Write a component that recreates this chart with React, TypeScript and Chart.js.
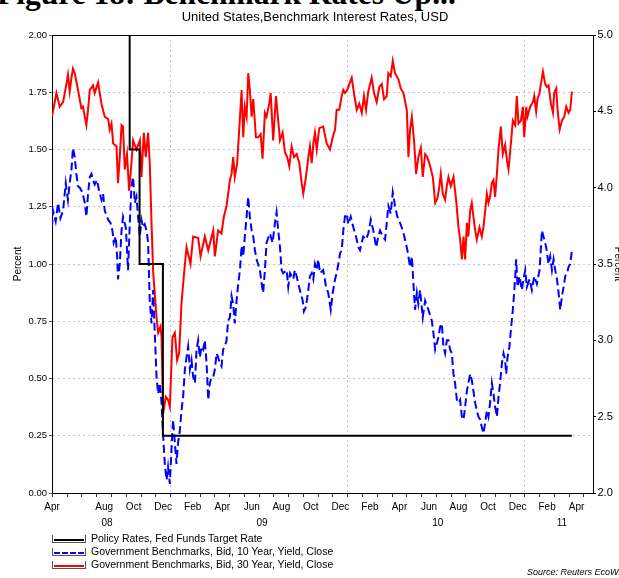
import React, { useEffect, useRef } from 'react';
import { Chart, registerables } from 'chart.js';

Chart.register(...registerables);

// x values are months since 1 Jan 2008 (12 = Jan 2009, 24 = Jan 2010, 36 = Jan 2011)
const axisStart = 3.97;
const axisEnd = 40.61;

const chartTitle = 'United States,Benchmark Interest Rates, USD';
const figureHeading = 'Figure 18: Benchmark Rates Up...';
const sourceNote = 'Source: Reuters EcoWin';

const seriesLabels = [
  'Policy Rates, Fed Funds Target Rate',
  'Government Benchmarks, Bid, 10 Year, Yield, Close',
  'Government Benchmarks, Bid, 30 Year, Yield, Close',
];

// Fed funds target rate (left axis, %)
const policyRate: [number, number][] = [
  [3.97, 2.0], [9.23, 1.5], [9.9, 1.0], [11.48, 0.25], [39.18, 0.25],
];

// 10 year yield (right axis, %)
const tenYear: [number, number][] = [
  [3.97, 3.74], [4.04, 3.85], [4.22, 3.78], [4.38, 3.9], [4.54, 3.8], [4.72, 3.85], [4.9, 4.03], [5.05, 3.92],
  [5.17, 4.03], [5.29, 4.12], [5.39, 4.26], [5.51, 4.2], [5.62, 4.09], [5.73, 4.01], [5.85, 4.0], [6.03, 3.97],
  [6.19, 3.9], [6.3, 3.81], [6.41, 3.96], [6.53, 4.07], [6.64, 4.09], [6.75, 4.05], [6.86, 4.02], [7.02, 4.05],
  [7.16, 3.98], [7.32, 3.92], [7.43, 3.96], [7.54, 3.85], [7.66, 3.82], [7.77, 3.79], [7.93, 3.77], [8.06, 3.72],
  [8.15, 3.64], [8.29, 3.68], [8.38, 3.55], [8.44, 3.4], [8.56, 3.5], [8.68, 3.72], [8.78, 3.81], [8.97, 3.74],
  [9.12, 3.46], [9.24, 3.77], [9.35, 4.01], [9.46, 4.07], [9.58, 3.9], [9.69, 3.94], [9.8, 3.81], [9.92, 3.68],
  [10.03, 3.79], [10.14, 3.74], [10.25, 3.76], [10.37, 3.72], [10.48, 3.64], [10.59, 3.26], [10.71, 3.11], [10.82, 3.33],
  [10.93, 3.05], [11.05, 2.76], [11.16, 2.65], [11.27, 2.72], [11.39, 2.59], [11.5, 2.37], [11.61, 2.19], [11.73, 2.085],
  [11.83, 2.17], [11.95, 2.06], [12.06, 2.28], [12.17, 2.48], [12.29, 2.33], [12.4, 2.19], [12.51, 2.33], [12.63, 2.41],
  [12.74, 2.54], [12.85, 2.63], [12.97, 2.81], [13.08, 2.89], [13.19, 2.96], [13.31, 2.81], [13.42, 2.87], [13.53, 2.76],
  [13.65, 2.72], [13.76, 2.94], [13.87, 3.0], [13.98, 2.89], [14.1, 2.96], [14.21, 2.94], [14.32, 3.0], [14.44, 2.85],
  [14.55, 2.61], [14.66, 2.72], [14.78, 2.76], [14.89, 2.76], [15.0, 2.81], [15.12, 2.915], [15.22, 2.89], [15.34, 2.85],
  [15.45, 2.83], [15.56, 2.94], [15.68, 2.96], [15.79, 3.0], [15.9, 3.13], [16.02, 3.15], [16.13, 3.29], [16.24, 3.24],
  [16.35, 3.11], [16.47, 3.26], [16.58, 3.37], [16.7, 3.46], [16.81, 3.62], [16.92, 3.55], [17.03, 3.68], [17.15, 3.81],
  [17.26, 3.94], [17.37, 3.81], [17.49, 3.72], [17.6, 3.68], [17.71, 3.59], [17.83, 3.53], [18.05, 3.46], [18.17, 3.37],
  [18.27, 3.31], [18.39, 3.46], [18.5, 3.64], [18.73, 3.7], [18.91, 3.64], [19.07, 3.77], [19.18, 3.84], [19.29, 3.72],
  [19.41, 3.61], [19.52, 3.46], [19.63, 3.44], [19.86, 3.46], [19.97, 3.35], [20.09, 3.44], [20.31, 3.4], [20.42, 3.46],
  [20.54, 3.42], [20.65, 3.37], [20.81, 3.31], [20.95, 3.26], [21.03, 3.19], [21.17, 3.22], [21.33, 3.33], [21.44, 3.42],
  [21.56, 3.44], [21.67, 3.4], [21.78, 3.5], [21.9, 3.46], [22.0, 3.53], [22.12, 3.44], [22.34, 3.46], [22.53, 3.35],
  [22.68, 3.31], [22.85, 3.2], [22.98, 3.31], [23.14, 3.4], [23.25, 3.44], [23.36, 3.5], [23.48, 3.57], [23.59, 3.59],
  [23.7, 3.72], [23.81, 3.81], [23.93, 3.83], [24.04, 3.76], [24.2, 3.81], [24.38, 3.74], [24.56, 3.68], [24.72, 3.61],
  [24.83, 3.59], [24.95, 3.64], [25.05, 3.68], [25.24, 3.66], [25.39, 3.7], [25.56, 3.79], [25.73, 3.72], [25.92, 3.61],
  [26.07, 3.68], [26.19, 3.72], [26.37, 3.68], [26.53, 3.66], [26.64, 3.77], [26.75, 3.88], [26.91, 3.83], [27.05, 3.97],
  [27.2, 3.88], [27.36, 3.81], [27.54, 3.77], [27.73, 3.72], [27.88, 3.66], [28.04, 3.59], [28.22, 3.48], [28.34, 3.55],
  [28.45, 3.37], [28.56, 3.2], [28.68, 3.31], [28.78, 3.24], [28.9, 3.33], [29.08, 3.15], [29.24, 3.26], [29.39, 3.22],
  [29.53, 3.18], [29.69, 3.13], [29.8, 3.05], [29.92, 2.94], [30.03, 2.98], [30.14, 3.02], [30.26, 3.09], [30.37, 3.11],
  [30.48, 2.96], [30.59, 2.915], [30.71, 3.0], [30.82, 3.0], [30.93, 2.94], [31.05, 2.915], [31.16, 2.78], [31.27, 2.72],
  [31.39, 2.61], [31.5, 2.59], [31.61, 2.61], [31.73, 2.5], [31.84, 2.48], [31.95, 2.565], [32.07, 2.67], [32.17, 2.72],
  [32.29, 2.78], [32.4, 2.74], [32.51, 2.67], [32.63, 2.59], [32.74, 2.54], [32.85, 2.5], [32.97, 2.48], [33.08, 2.43],
  [33.19, 2.39], [33.31, 2.46], [33.42, 2.54], [33.53, 2.5], [33.64, 2.59], [33.76, 2.72], [33.87, 2.65], [33.98, 2.565],
  [34.1, 2.5], [34.21, 2.63], [34.32, 2.72], [34.44, 2.85], [34.55, 2.915], [34.66, 2.87], [34.73, 2.78], [34.82, 2.89],
  [34.95, 2.96], [35.05, 3.07], [35.18, 3.2], [35.27, 3.31], [35.34, 3.42], [35.41, 3.53], [35.5, 3.35], [35.63, 3.42],
  [35.79, 3.33], [35.9, 3.4], [36.02, 3.46], [36.13, 3.35], [36.31, 3.4], [36.47, 3.33], [36.63, 3.42], [36.81, 3.37],
  [36.99, 3.46], [37.15, 3.72], [37.31, 3.66], [37.44, 3.61], [37.6, 3.5], [37.71, 3.55], [37.83, 3.46], [37.94, 3.53],
  [38.05, 3.46], [38.17, 3.4], [38.28, 3.31], [38.39, 3.2], [38.51, 3.29], [38.62, 3.35], [38.73, 3.42], [38.85, 3.44],
  [38.95, 3.48], [39.07, 3.5], [39.18, 3.59],
];

// 30 year yield (right axis, %)
const thirtyYear: [number, number][] = [
  [3.97, 4.465], [4.27, 4.62], [4.49, 4.53], [4.72, 4.56], [4.95, 4.68], [5.05, 4.74], [5.17, 4.63], [5.29, 4.72],
  [5.39, 4.78], [5.51, 4.75], [5.73, 4.64], [5.96, 4.52], [6.07, 4.53], [6.3, 4.41], [6.41, 4.51], [6.53, 4.64],
  [6.75, 4.67], [6.86, 4.62], [7.09, 4.69], [7.32, 4.55], [7.54, 4.465], [7.77, 4.45], [7.88, 4.38], [8.0, 4.42],
  [8.11, 4.29], [8.34, 4.27], [8.44, 4.03], [8.56, 4.2], [8.68, 4.41], [8.78, 4.4], [8.9, 4.12], [9.05, 4.22],
  [9.19, 3.98], [9.35, 4.16], [9.46, 4.31], [9.69, 4.25], [9.92, 4.31], [10.03, 4.07], [10.19, 4.36], [10.32, 4.2],
  [10.48, 4.36], [10.59, 4.16], [10.71, 3.77], [10.82, 3.45], [11.05, 3.15], [11.16, 3.05], [11.32, 3.09], [11.39, 3.02],
  [11.5, 2.52], [11.68, 2.63], [11.83, 2.61], [11.95, 2.565], [12.13, 3.02], [12.29, 3.05], [12.44, 2.87], [12.58, 2.915],
  [12.74, 3.24], [12.85, 3.37], [13.08, 3.61], [13.35, 3.5], [13.53, 3.68], [13.87, 3.67], [14.03, 3.55], [14.32, 3.68],
  [14.55, 3.59], [14.89, 3.72], [15.0, 3.55], [15.22, 3.72], [15.45, 3.7], [15.61, 3.81], [15.79, 3.88], [16.02, 4.05],
  [16.13, 4.09], [16.24, 4.2], [16.35, 4.07], [16.51, 4.16], [16.65, 4.38], [16.81, 4.64], [16.92, 4.33], [17.03, 4.53],
  [17.15, 4.465], [17.26, 4.75], [17.37, 4.64], [17.49, 4.465], [17.6, 4.58], [17.78, 4.33], [17.94, 4.33], [18.1, 4.35],
  [18.23, 4.19], [18.39, 4.49], [18.5, 4.465], [18.68, 4.55], [18.78, 4.62], [18.95, 4.31], [19.14, 4.6], [19.29, 4.44],
  [19.41, 4.31], [19.59, 4.36], [19.75, 4.23], [19.9, 4.2], [20.04, 4.14], [20.2, 4.27], [20.36, 4.2], [20.54, 4.22],
  [20.72, 4.16], [20.88, 4.03], [20.99, 3.96], [21.17, 4.07], [21.33, 4.2], [21.44, 4.27], [21.56, 4.16], [21.67, 4.29],
  [21.78, 4.36], [21.9, 4.25], [22.07, 4.39], [22.34, 4.4], [22.57, 4.29], [22.8, 4.25], [22.98, 4.33], [23.14, 4.38],
  [23.25, 4.51], [23.43, 4.51], [23.59, 4.6], [23.7, 4.64], [23.81, 4.62], [23.97, 4.64], [24.11, 4.68], [24.27, 4.72],
  [24.42, 4.62], [24.61, 4.51], [24.78, 4.55], [24.95, 4.49], [25.1, 4.6], [25.24, 4.51], [25.39, 4.63], [25.62, 4.72],
  [25.78, 4.62], [25.96, 4.56], [26.14, 4.66], [26.3, 4.68], [26.46, 4.58], [26.64, 4.6], [26.75, 4.75], [26.91, 4.73],
  [27.05, 4.83], [27.2, 4.75], [27.43, 4.71], [27.59, 4.65], [27.77, 4.62], [28.0, 4.51], [28.11, 4.2], [28.22, 4.38],
  [28.34, 4.465], [28.49, 4.31], [28.63, 4.09], [28.78, 4.2], [28.95, 4.26], [29.08, 4.07], [29.24, 4.22], [29.39, 4.2],
  [29.58, 4.14], [29.76, 4.07], [29.92, 3.9], [30.07, 3.93], [30.21, 4.01], [30.3, 4.09], [30.44, 3.96], [30.59, 3.92],
  [30.71, 4.01], [30.82, 4.07], [30.98, 4.01], [31.16, 4.07], [31.34, 3.92], [31.5, 3.74], [31.61, 3.66], [31.73, 3.53],
  [31.84, 3.68], [31.95, 3.53], [32.07, 3.77], [32.17, 3.68], [32.29, 3.85], [32.4, 3.9], [32.51, 3.81], [32.63, 3.72],
  [32.74, 3.66], [32.92, 3.74], [33.08, 3.68], [33.19, 3.74], [33.31, 3.85], [33.42, 3.96], [33.53, 3.9], [33.64, 3.94],
  [33.76, 4.03], [33.87, 4.05], [33.98, 3.94], [34.1, 4.09], [34.21, 4.25], [34.37, 4.4], [34.5, 4.22], [34.66, 4.28],
  [34.78, 4.18], [34.89, 4.12], [35.05, 4.29], [35.18, 4.44], [35.34, 4.41], [35.45, 4.6], [35.56, 4.42], [35.73, 4.44],
  [35.86, 4.53], [35.95, 4.33], [36.09, 4.53], [36.17, 4.465], [36.36, 4.53], [36.54, 4.56], [36.63, 4.6], [36.76, 4.5],
  [36.85, 4.58], [36.99, 4.62], [37.08, 4.68], [37.22, 4.76], [37.37, 4.68], [37.49, 4.66], [37.6, 4.67], [37.76, 4.55],
  [37.9, 4.49], [37.98, 4.62], [38.12, 4.65], [38.21, 4.51], [38.35, 4.38], [38.51, 4.44], [38.66, 4.465], [38.8, 4.53],
  [38.95, 4.49], [39.07, 4.51], [39.18, 4.63],
];

// axis ticks and labels
const leftTicks = [0, 0.25, 0.5, 0.75, 1.0, 1.25, 1.5, 1.75, 2.0];
const rightTicks = [2.0, 2.5, 3.0, 3.5, 4.0, 4.5, 5.0];
const monthTickStarts = [4, 5, 6, 7, 8, 9, 10, 11, 12, 13, 14, 15, 16, 17, 18, 19, 20, 21, 22, 23, 24, 25, 26, 27, 28, 29, 30, 31, 32, 33, 34, 35, 36, 37, 38, 39, 40];
const yearStarts = [12, 24, 36];
const monthLabels = ['Apr', 'Aug', 'Oct', 'Dec', 'Feb', 'Apr', 'Jun', 'Aug', 'Oct', 'Dec', 'Feb', 'Apr', 'Jun', 'Aug', 'Oct', 'Dec', 'Feb', 'Apr'];
const monthLabelAt = [3.97, 7.5, 9.5, 11.5, 13.5, 15.5, 17.5, 19.5, 21.5, 23.5, 25.5, 27.5, 29.5, 31.5, 33.5, 35.5, 37.5, 39.5];
const yearLabels = ['08', '09', '10', '11'];
const yearLabelAt = [7.7, 18.2, 30.1, 38.5];

const FONT = "'Liberation Sans', Arial, Helvetica, sans-serif";
const GRID = '#c4c4c4';
const CLEAR = 'rgba(0,0,0,0)';

const near = (a: number, b: number) => Math.abs(a - b) < 1e-6;

const topFramePlugin = {
  id: 'topFrame',
  afterDatasetsDraw(chart: any) {
    const { ctx, chartArea } = chart;
    ctx.save();
    ctx.strokeStyle = '#000';
    ctx.lineWidth = 1;
    const y = Math.round(chartArea.top) + 0.5;
    ctx.beginPath();
    ctx.moveTo(chartArea.left, y);
    ctx.lineTo(chartArea.right, y);
    ctx.stroke();
    ctx.restore();
  },
};

const legendStyles = [
  { color: '#000000', dash: false },
  { color: '#0000ff', dash: true },
  { color: '#ff0000', dash: false },
];

export default function App() {
  const canvasRef = useRef<HTMLCanvasElement | null>(null);

  useEffect(() => {
    const canvas = canvasRef.current;
    if (!canvas) return;

    const xTicks = Array.from(new Set([...monthTickStarts, ...monthLabelAt])).sort((a, b) => a - b);

    const chart = new Chart(canvas, {
      type: 'line',
      data: {
        datasets: [
          {
            label: seriesLabels[0],
            data: policyRate.map(([x, y]) => ({ x, y })),
            yAxisID: 'y',
            borderColor: '#000000',
            borderWidth: 2,
            stepped: true,
            pointRadius: 0,
            fill: false,
          },
          {
            label: seriesLabels[1],
            data: tenYear.map(([x, y]) => ({ x, y })),
            yAxisID: 'y1',
            borderColor: '#0000ff',
            borderWidth: 2,
            borderDash: [8, 4],
            pointRadius: 0,
            tension: 0,
            fill: false,
          },
          {
            label: seriesLabels[2],
            data: thirtyYear.map(([x, y]) => ({ x, y })),
            yAxisID: 'y1',
            borderColor: '#ff0000',
            borderWidth: 2,
            pointRadius: 0,
            tension: 0,
            fill: false,
          },
        ],
      },
      options: {
        animation: false,
        responsive: false,
        maintainAspectRatio: false,
        layout: { padding: { left: 0, right: 0, top: 0, bottom: 47 } },
        plugins: {
          legend: { display: false },
          tooltip: { enabled: false },
          title: {
            display: true,
            text: chartTitle,
            color: '#000',
            font: { family: FONT, size: 13, weight: 'normal', lineHeight: 1 },
            padding: { top: 11, bottom: 11 },
          },
        },
        scales: {
          x: {
            type: 'linear',
            position: 'bottom',
            min: axisStart,
            max: axisEnd,
            weight: 0,
            afterBuildTicks: (s: any) => {
              s.ticks = xTicks.map((v) => ({ value: v }));
            },
            afterFit: (s: any) => {
              s.height = 20;
            },
            ticks: {
              autoSkip: false,
              maxRotation: 0,
              minRotation: 0,
              padding: 4,
              color: '#000',
              font: { family: FONT, size: 10 },
              callback: (v: any) => {
                const i = monthLabelAt.findIndex((p) => near(p, Number(v)));
                return i >= 0 ? monthLabels[i] : '';
              },
            },
            grid: {
              drawOnChartArea: true,
              lineWidth: 1,
              tickLength: 4,
              color: (c: any) => (c.tick && yearStarts.some((p) => near(p, c.tick.value)) ? GRID : CLEAR),
              tickColor: (c: any) => (c.tick && monthTickStarts.some((p) => near(p, c.tick.value)) ? '#333' : CLEAR),
            },
            border: { display: true, color: '#000', width: 1, dash: [2, 3] },
          },
          x2: {
            type: 'linear',
            position: 'bottom',
            min: axisStart,
            max: axisEnd,
            weight: 1,
            afterBuildTicks: (s: any) => {
              s.ticks = yearLabelAt.map((v) => ({ value: v }));
            },
            afterFit: (s: any) => {
              s.height = 18;
            },
            ticks: {
              autoSkip: false,
              maxRotation: 0,
              minRotation: 0,
              padding: 4,
              color: '#000',
              font: { family: FONT, size: 10 },
              callback: (v: any) => {
                const i = yearLabelAt.findIndex((p) => near(p, Number(v)));
                return i >= 0 ? yearLabels[i] : '';
              },
            },
            grid: { display: false, drawTicks: false },
            border: { display: false },
          },
          y: {
            type: 'linear',
            position: 'left',
            min: 0,
            max: 2,
            afterBuildTicks: (s: any) => {
              s.ticks = leftTicks.map((v) => ({ value: v }));
            },
            afterFit: (s: any) => {
              s.width = 52;
            },
            ticks: {
              padding: 2,
              color: '#000',
              font: { family: FONT, size: 9.5 },
              callback: (v: any) => Number(v).toFixed(2),
            },
            grid: {
              lineWidth: 1,
              tickLength: 3,
              color: (c: any) => (c.tick && (near(c.tick.value, 0) || near(c.tick.value, 2)) ? CLEAR : GRID),
              tickColor: '#666',
            },
            border: { display: true, color: '#000', width: 1, dash: [2, 3] },
            title: {
              display: true,
              text: 'Percent',
              color: '#000',
              font: { family: FONT, size: 10, lineHeight: 1.2 },
              padding: { top: 12, bottom: 0 },
            },
          },
          y1: {
            type: 'linear',
            position: 'right',
            min: 2,
            max: 5,
            afterBuildTicks: (s: any) => {
              s.ticks = rightTicks.map((v) => ({ value: v }));
            },
            afterFit: (s: any) => {
              s.width = 37;
            },
            ticks: {
              padding: 1.5,
              color: '#000',
              font: { family: FONT, size: 11 },
              callback: (v: any) => Number(v).toFixed(1),
            },
            grid: { drawOnChartArea: false, tickLength: 3, tickColor: '#000' },
            border: { display: true, color: '#000', width: 1 },
            title: {
              display: true,
              text: 'Percent',
              color: '#000',
              font: { family: FONT, size: 10, lineHeight: 1.2 },
              padding: { top: 6, bottom: 0 },
            },
          },
        },
      } as any,
      plugins: [topFramePlugin],
    });

    return () => {
      chart.destroy();
    };
  }, []);

  return (
    <div
      style={{
        position: 'fixed',
        left: 0,
        top: 0,
        width: 619,
        height: 578,
        overflow: 'hidden',
        background: '#fff',
      }}
    >
      <div
        style={{
          position: 'absolute',
          left: -3,
          top: -22,
          whiteSpace: 'nowrap',
          fontFamily: "'Liberation Serif', 'Times New Roman', serif",
          fontWeight: 'bold',
          fontSize: 31.5,
          lineHeight: 1,
          color: '#000',
        }}
      >
        {figureHeading}
      </div>
      <canvas
        ref={canvasRef}
        width={630}
        height={578}
        style={{ position: 'absolute', left: 0, top: 0, width: 630, height: 578, display: 'block' }}
      />
      <div style={{ position: 'absolute', left: 52, top: 532 }}>
        {seriesLabels.map((label, i) => (
          <div key={label} style={{ display: 'flex', alignItems: 'center', height: 13 }}>
            <span
              style={{
                position: 'relative',
                display: 'inline-block',
                width: 32,
                height: 7,
                borderLeft: '1px solid #555',
                borderRight: '1px solid #555',
                borderBottom: '1px solid #555',
              }}
            >
              <span
                style={{
                  position: 'absolute',
                  left: 1,
                  right: 1,
                  bottom: 1,
                  height: 0,
                  borderTop: `2px ${legendStyles[i].dash ? 'dashed' : 'solid'} ${legendStyles[i].color}`,
                }}
              />
            </span>
            <span
              style={{
                marginLeft: 5,
                fontFamily: FONT,
                fontSize: 10.5,
                lineHeight: '13px',
                color: '#000',
                whiteSpace: 'nowrap',
              }}
            >
              {label}
            </span>
          </div>
        ))}
      </div>
      <div
        style={{
          position: 'absolute',
          left: 527,
          top: 567,
          fontFamily: FONT,
          fontStyle: 'italic',
          fontSize: 9,
          lineHeight: '11px',
          color: '#000',
          whiteSpace: 'nowrap',
        }}
      >
        {sourceNote}
      </div>
    </div>
  );
}
